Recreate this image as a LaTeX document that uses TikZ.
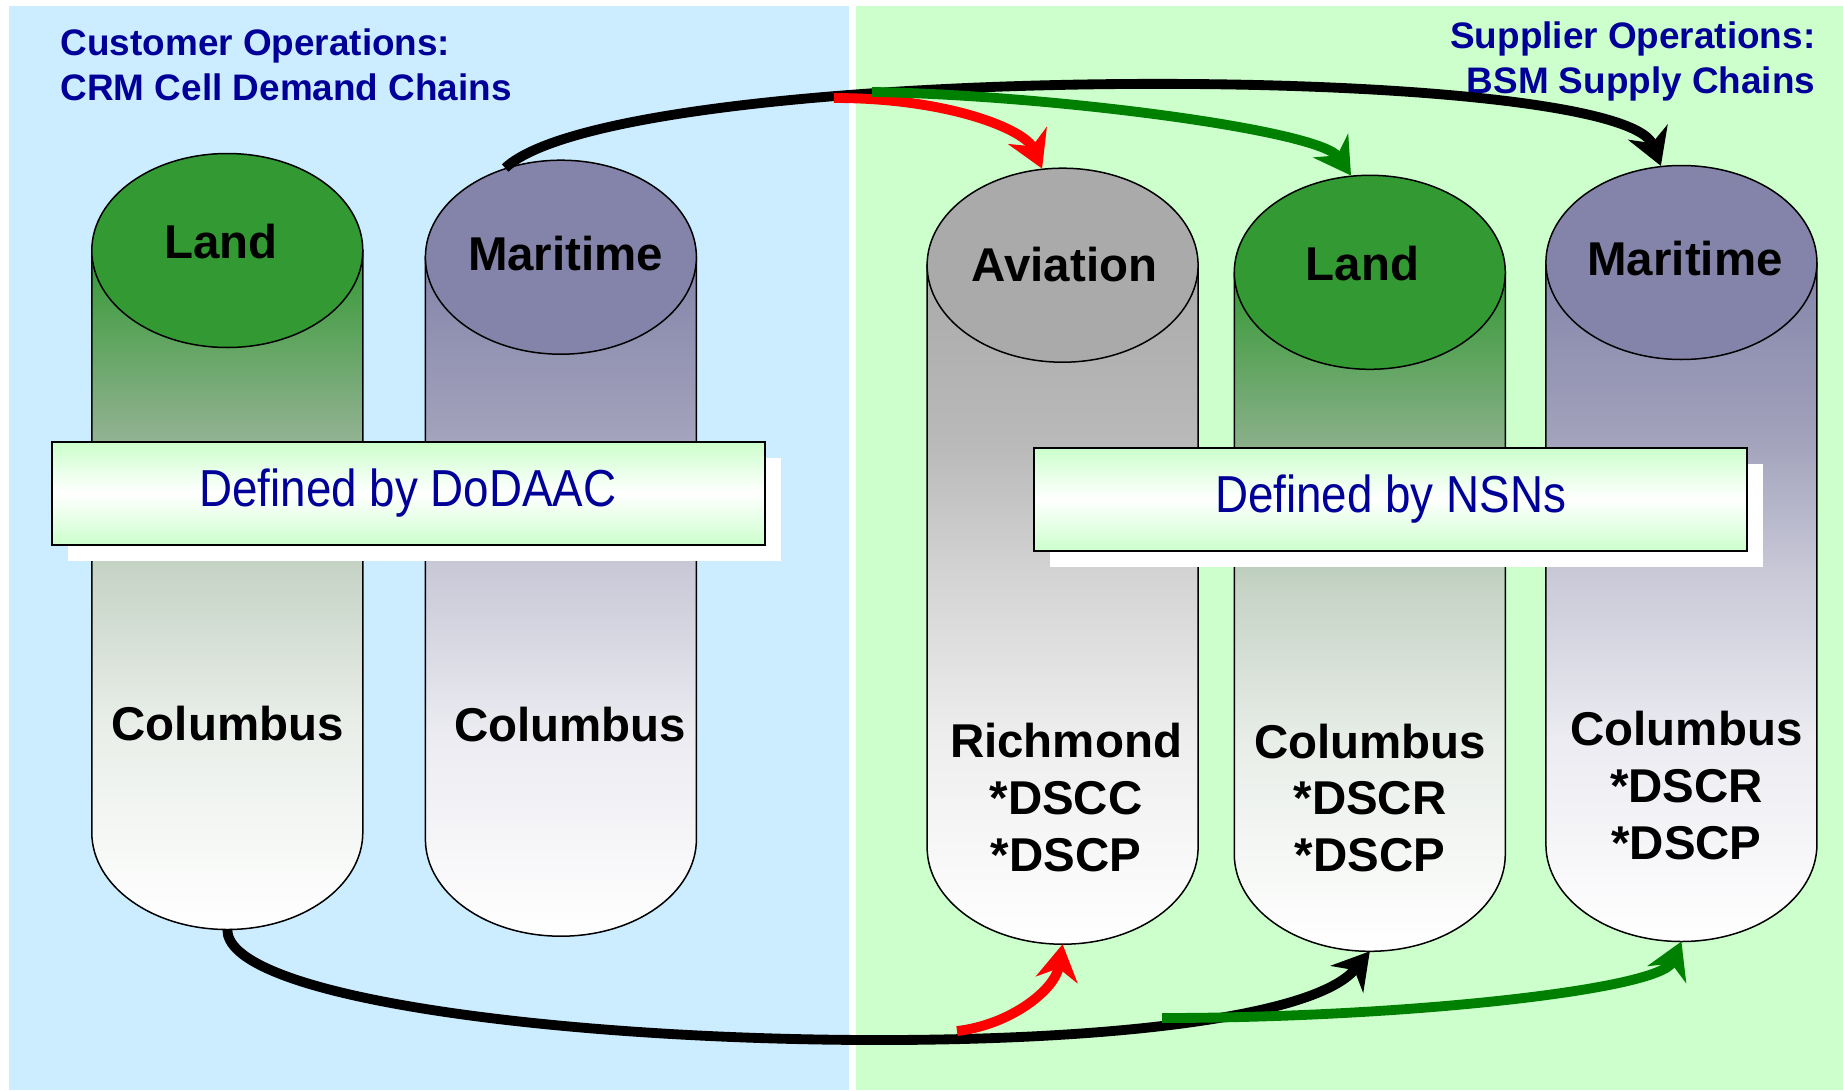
\documentclass[tikz,border=0pt]{standalone}
\usepackage{fontspec}
\setmainfont{Liberation Sans}
\newfontfamily\narrowsans[FakeStretch=0.88]{Liberation Sans}
\usetikzlibrary{shapes.geometric,arrows.meta,shadows}

\definecolor{custblue}{RGB}{204,236,255}
\definecolor{suppgreen}{RGB}{204,255,204}
\definecolor{navytext}{RGB}{0,0,153}
\definecolor{arrowgreen}{RGB}{0,128,0}
% tank colours: top, then three stops down the body
\definecolor{land}{RGB}{51,153,51}
\definecolor{land-a}{RGB}{140,176,140}
\definecolor{land-b}{RGB}{197,211,197}
\definecolor{land-c}{RGB}{233,238,233}
\definecolor{sea}{RGB}{132,132,170}
\definecolor{sea-a}{RGB}{162,162,188}
\definecolor{sea-b}{RGB}{201,201,216}
\definecolor{sea-c}{RGB}{235,235,241}
\definecolor{air}{RGB}{170,170,170}
\definecolor{air-a}{RGB}{185,185,185}
\definecolor{air-b}{RGB}{212,212,212}
\definecolor{air-c}{RGB}{238,238,238}

\colorlet{tankT}{land}
\colorlet{tankA}{land-a}
\colorlet{tankB}{land-b}
\colorlet{tankC}{land-c}
\pgfdeclareverticalshading[tankT,tankA,tankB,tankC]{tankbody}{100bp}{%
    color(0bp)=(white); color(25bp)=(white); color(40bp)=(tankC);
    color(52bp)=(tankB); color(62bp)=(tankA); color(75bp)=(tankT); color(100bp)=(tankT)}

\tikzset{
    tanktop/.style={ellipse, draw, line width=0.15mm, minimum width=27.1mm, minimum height=19.4mm, inner sep=0pt},
    tanklabel/.style={font=\fontsize{13.5}{16.2}\selectfont\bfseries, align=center, inner sep=0pt},
    banner/.style={draw, line width=0.2mm, top color=suppgreen, bottom color=suppgreen, middle color=white,
        minimum width=71.3mm, minimum height=10.3mm, text=navytext,
        font=\fontsize{14.8}{17}\selectfont\narrowsans,
        drop shadow={shadow xshift=1.6mm, shadow yshift=-1.6mm, fill=white, opacity=1}},
    heading/.style={font=\fontsize{10.5}{12.7}\selectfont\bfseries, text=navytext, inner sep=0pt},
    link/.style={line width=2.8pt, -{Stealth[length=3.6mm, width=4.2mm]}}
}

% name, x, y (top centre), colour
\newcommand{\tank}[4]{%
    \colorlet{tankT}{#4}\colorlet{tankA}{#4-a}\colorlet{tankB}{#4-b}\colorlet{tankC}{#4-c}%
    \shade[shading=tankbody, draw, line width=0.15mm]
        (#2-135.5,#3) -- (#2-135.5,#3+582)
        arc[start angle=180, end angle=0, x radius=135.5, y radius=97]
        -- (#2+135.5,#3) -- cycle;
    \node[tanktop, fill=#4] (#1) at (#2,#3) {};
    \coordinate (#1-bot) at (#2,#3+679);
}

\begin{document}
\begin{tikzpicture}[x=0.1mm, y=-0.1mm]
    \useasboundingbox (0,0) rectangle (1843,1090);
    \fill[white] (0,0) rectangle (1843,1090);
    \fill[custblue] (9,6) rectangle (849,1090);
    \fill[suppgreen] (856,6) rectangle (1843,1090);

    \node[heading, anchor=north west, align=left] (custhead) at (60,28)
        {Customer Operations:\\CRM Cell Demand Chains};
    \node[heading, anchor=north east, align=right] (supphead) at (1816,21)
        {Supplier Operations:\\BSM Supply Chains};

    \tank{landC}{227.3}{250.5}{land}
    \tank{mariC}{560.9}{257.2}{sea}
    \tank{aviaS}{1062.6}{265.2}{air}
    \tank{landS}{1369.8}{272.3}{land}
    \tank{mariS}{1681.4}{262.5}{sea}

    \node[banner] (dodaac) at (408,493.4) {Defined by DoDAAC};
    \node[banner] (nsns) at (1390.6,499.2) {Defined by NSNs};

    \node[tanklabel] (landC-name) at (221,242) {Land};
    \node[tanklabel] (mariC-name) at (565.6,254) {Maritime};
    \node[tanklabel] (aviaS-name) at (1064.6,265) {Aviation};
    \node[tanklabel] (landS-name) at (1362.6,264) {Land};
    \node[tanklabel] (mariS-name) at (1685,259) {Maritime};

    \node[tanklabel] (landC-site) at (227.6,724) {Columbus};
    \node[tanklabel] (mariC-site) at (570,724.5) {Columbus};
    \node[tanklabel] (aviaS-site) at (1066,797.5) {Richmond\\*DSCC\\*DSCP};
    \node[tanklabel] (landS-site) at (1370,798) {Columbus\\*DSCR\\*DSCP};
    \node[tanklabel] (mariS-site) at (1686.5,785.4) {Columbus\\*DSCR\\*DSCP};

    \coordinate (topfork-red) at (834,98);
    \coordinate (topfork-green) at (872,92);
    \coordinate (botfork-red) at (957,1031);
    \coordinate (botfork-green) at (1162,1018);

    \draw[link] (mariC.122) .. controls (620,60) and (1620,60) .. (mariS.102);
    \draw[link, red] (topfork-red) .. controls (950,98) and (1025,130) .. (aviaS.102);
    \draw[link, arrowgreen] (topfork-green) .. controls (1050,95) and (1320,130) .. (landS.101);

    \draw[link] (landC-bot) .. controls (227,1050) and (1260,1085) .. (landS-bot);
    \draw[link, red] (botfork-red) .. controls (1010,1025) and (1055,990) .. (aviaS-bot);
    \draw[link, arrowgreen] (botfork-green) .. controls (1400,1018) and (1660,990) .. (mariS-bot);
\end{tikzpicture}
\end{document}
